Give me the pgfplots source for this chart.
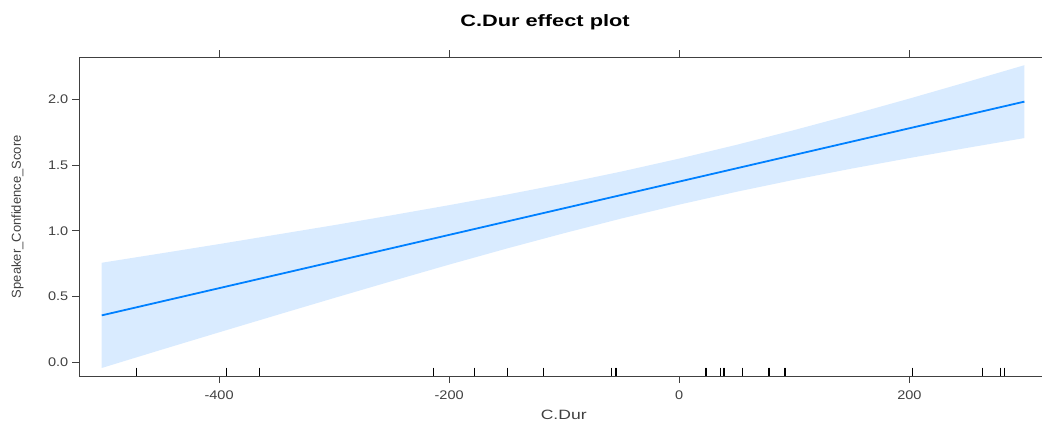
\documentclass[border=0pt]{standalone}
\usepackage{fontspec}
\setmainfont{Liberation Sans}
\usepackage{pgfplots}
\pgfplotsset{compat=1.18}
\definecolor{effLine}{HTML}{0080FF}
\definecolor{effBand}{HTML}{D9EBFF}
\definecolor{axGray}{HTML}{404040}

\begin{document}
\begin{tikzpicture}
\useasboundingbox (-79.3pt,-45pt) rectangle (962.7pt,376pt);
\begin{axis}[
    name=ax,
    at={(0pt,0pt)}, anchor=south west,
    scale only axis,
    width=962.7pt, height=318.7pt,
    xmin=-521.5, xmax=315.3,
    ymin=-0.104, ymax=2.319,
    xtick={-400,-200,0,200},
    ytick={0,0.5,1,1.5,2},
    xtick pos=both, xticklabel pos=lower,
    ytick pos=left,
    tick align=outside,
    major tick length=7pt,
    tick style={axGray, line width=0.8pt},
    axis line style={draw=none},
    /pgf/number format/assume math mode=true,
    tick label style={font=\fontsize{12.5}{14}\selectfont, text=axGray, xscale=1.16},
    xticklabel style={yshift=-4pt},
    yticklabel style={/pgf/number format/fixed,
        /pgf/number format/fixed zerofill,
        /pgf/number format/precision=1},
]
% confidence band: upper edge left to right, lower edge back
\addplot[fill=effBand, draw=none] coordinates {
    (-502,0.757) (-450,0.829) (-400,0.899) (-350,0.971) (-300,1.043)
    (-250,1.118) (-200,1.195) (-150,1.275) (-100,1.360) (-50,1.451)
    (0,1.549) (50,1.654) (100,1.766) (150,1.883) (200,2.005)
    (250,2.131) (300,2.259)
    (300,1.705) (250,1.630) (200,1.553) (150,1.473) (100,1.388)
    (50,1.297) (0,1.199) (-50,1.094) (-100,0.982) (-150,0.865)
    (-200,0.743) (-250,0.617) (-300,0.489) (-350,0.359) (-400,0.228)
    (-450,0.096) (-502,-0.043)
} -- cycle;
% fitted effect
\addplot[effLine, line width=1.8pt] coordinates {(-502,0.357) (300,1.982)};
% rug
\addplot[only marks, mark=|, mark size=4.2pt,
    mark options={black, line width=1pt}] coordinates {
    (-472,-0.072) (-393.4,-0.072) (-365.3,-0.072) (-213.8,-0.072)
    (-177.8,-0.072) (-149.2,-0.072) (-117.9,-0.072) (-59.1,-0.072)
    (-55.3,-0.072) (-54.4,-0.072) (22.8,-0.072) (23.6,-0.072)
    (36,-0.072) (38.5,-0.072) (39.3,-0.072) (54.8,-0.072)
    (77.6,-0.072) (78.4,-0.072) (91.5,-0.072) (92.3,-0.072)
    (202.3,-0.072) (263.4,-0.072) (279.4,-0.072) (282.5,-0.072)
};
\end{axis}
\draw[axGray, line width=0.8pt]
    (ax.north east) -- (ax.north west) -- (ax.south west) -- (ax.south east);
\node[font=\fontsize{16.5}{18}\selectfont\bfseries, anchor=base, xscale=1.32] at (465.7pt,349.3pt) {C.Dur effect plot};
\node[font=\fontsize{13.5}{15}\selectfont, text=axGray, anchor=base, xscale=1.3] at (484.4pt,-43.5pt) {C.Dur};
\node[font=\fontsize{13}{15}\selectfont, text=axGray, rotate=90] at (-61.8pt,159.3pt) {Speaker\_Confidence\_Score};
\end{tikzpicture}
\end{document}
